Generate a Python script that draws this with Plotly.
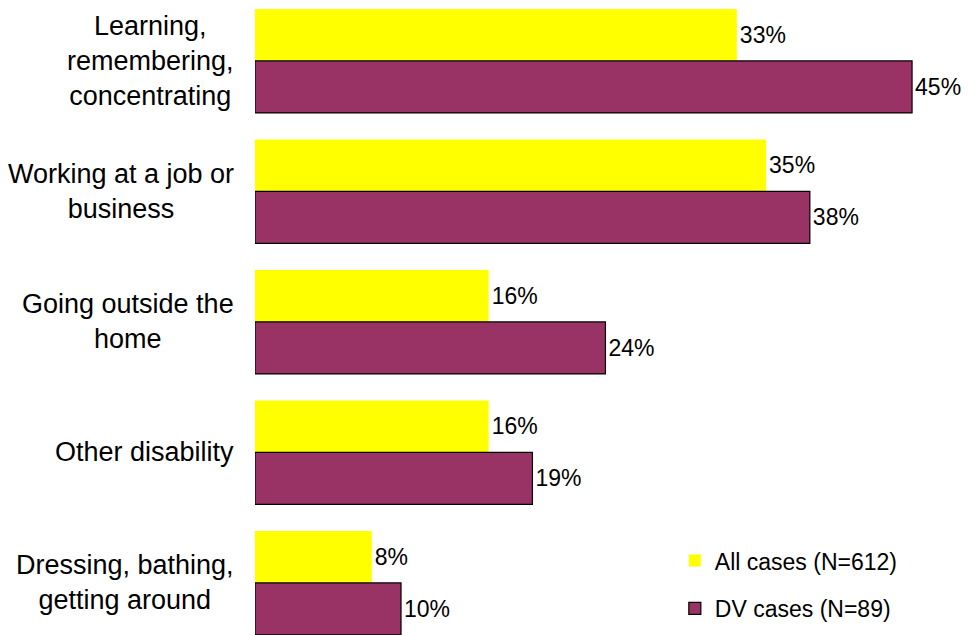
import plotly.graph_objects as go

# Disability types reported, share of cases (%)
categories = [
    "Learning,<br>remembering,<br>concentrating",
    "Working at a job or<br>business",
    "Going outside the<br>home",
    "Other disability",
    "Dressing, bathing,<br>getting around",
]
all_cases = [33, 35, 16, 16, 8]
dv_cases = [45, 38, 24, 19, 10]
series_names = ["All cases (N=612)", "DV cases (N=89)"]

FONT = "Arial, Liberation Sans, sans-serif"

fig = go.Figure()
fig.add_trace(go.Bar(
    y=categories, x=all_cases, orientation="h", name=series_names[0],
    marker=dict(color="#FFFF00", line=dict(width=0)),
    text=[f"{v}%" for v in all_cases], textposition="outside",
    textfont=dict(size=23, color="black", family=FONT),
    cliponaxis=False, legendgroup="a",
))
fig.add_trace(go.Bar(
    y=categories, x=dv_cases, orientation="h", name=series_names[1],
    marker=dict(color="#993366", line=dict(width=1.2, color="black")),
    text=[f"{v}%" for v in dv_cases], textposition="outside",
    textfont=dict(size=23, color="black", family=FONT),
    cliponaxis=False, legendgroup="b",
))

# Category labels as centred multi-line annotations left of the bars
for c in categories:
    fig.add_annotation(
        x=0, xref="paper", y=c, yref="y", text=c, showarrow=False,
        xanchor="right", yanchor="middle", align="center", xshift=-19,
        font=dict(size=27, color="black", family=FONT),
    )

fig.update_layout(
    width=969, height=635,
    margin=dict(l=255, r=0, t=0, b=0, pad=0),
    paper_bgcolor="white", plot_bgcolor="white",
    barmode="group", bargap=0.203, bargroupgap=0,
    font=dict(family=FONT, color="black"),
    xaxis=dict(range=[0, 48.9], visible=False),
    yaxis=dict(type="category", range=[4.399, -0.467], visible=False),
    legend=dict(
        x=0.588, xanchor="left", y=0.151, yanchor="top",
        font=dict(size=23, color="black", family=FONT),
        traceorder="grouped", tracegroupgap=15,
        bgcolor="rgba(0,0,0,0)",
    ),
    showlegend=True,
)

fig.write_html("out.html")
